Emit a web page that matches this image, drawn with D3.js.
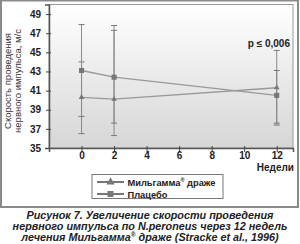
<!DOCTYPE html>
<html>
<head>
<meta charset="utf-8">
<script src="https://cdn.jsdelivr.net/npm/d3@7"></script>
<style>
body{margin:0;background:#fff;}
svg{display:block;font-family:"Liberation Sans",Arial,sans-serif;}
</style>
</head>
<body>
<div id="chart"></div>
<script>
// weeks of treatment and values
const weeks = [0, 2, 12]
const milgamma = [40.3, 40.1, 41.3]
const milgammaHi = [44.0, 47.3, 45.2]
const milgammaLo = [36.5, 36.3, 37.4]
const placebo = [43.1, 42.4, 40.5]
const placeboHi = [47.9, 47.8, 43.1]
const placeboLo = [38.3, 37.6, 37.6]
const xTicks = [0, 2, 4, 6, 8, 10, 12]
const yTicks = [35, 37, 39, 41, 43, 45, 47, 49]
const seriesNames = ['Мильгамма', 'Плацебо']

const width = 300
const height = 244
const svg = d3.select('#chart').append('svg')
	.attr('width',width)
	.attr('height',height)

//gradient for the plot area
const grad = svg.append('defs').append('linearGradient')
	.attr('id','bg').attr('x1',0).attr('y1',0).attr('x2',0).attr('y2',1)
grad.append('stop').attr('offset','0%').attr('stop-color','#ffffff')
grad.append('stop').attr('offset','100%').attr('stop-color','#d6d6d6')

//outer frame
svg.append('rect')
	.attr('x',1).attr('y',0.5).attr('width',297).attr('height',206.5)
	.attr('fill','#fff').attr('stroke','#8a8a8a').attr('stroke-width',2)

const x = d3.scaleLinear().domain([-2,13]).range([49,293])
const y = d3.scaleLinear().domain([35,50]).range([148,4.5])

svg.append('rect')
	.attr('x',x(-2)).attr('y',y(50)).attr('width',x(13)-x(-2)).attr('height',y(35)-y(50))
	.attr('fill','url(#bg)').attr('stroke','#9a9a9a').attr('stroke-width',1)

//axes
const yAxis = svg.append('g')
	.attr('transform',`translate(${x(-2)},0)`)
	.call(d3.axisLeft(y).tickValues(yTicks).tickSize(4).tickPadding(4))
const xAxis = svg.append('g')
	.attr('transform',`translate(0,${y(35)})`)
	.call(d3.axisBottom(x).tickValues(xTicks).tickSize(4).tickPadding(0))
;[yAxis,xAxis].forEach(function(a){
	a.select('.domain').attr('stroke','#555').attr('stroke-width',1.5)
	a.selectAll('.tick line').attr('stroke','#444')
	a.selectAll('.tick text')
		.attr('fill','#222')
		.style('font-size','10px')
		.style('font-weight','bold')
})
yAxis.selectAll('.tick line').attr('x2',-3).attr('x1',2)
xAxis.selectAll('.tick line').attr('y1',-2).attr('y2',4)

svg.append('text')
	.attr('x',294).attr('y',170.5)
	.attr('text-anchor','end')
	.style('font-size','10px').style('font-weight','bold').attr('fill','#222')
	.text('Недели')

//y axis title, two lines
const yTitle = svg.append('text')
	.attr('transform','translate(0,81) rotate(-90)')
	.attr('text-anchor','middle')
	.style('font-size','9.5px').attr('fill','#333')
yTitle.append('tspan').attr('x',0).attr('y',10.5).text('Скорость проведения')
yTitle.append('tspan').attr('x',0).attr('y',20.5).text('нервного импульса, м/с')

const col = '#8a8a8a'
const series = [
	{name:seriesNames[0],reg:true,tail:' драже',vals:milgamma,hi:milgammaHi,lo:milgammaLo,sym:d3.symbolTriangle,size:14},
	{name:seriesNames[1],reg:false,tail:'',vals:placebo,hi:placeboHi,lo:placeboLo,sym:d3.symbolSquare,size:26}
]

//error bars
series.forEach(function(s){
	const g = svg.append('g')
	weeks.forEach(function(w,i){
		g.append('line')
			.attr('x1',x(w)).attr('x2',x(w))
			.attr('y1',y(s.hi[i])).attr('y2',y(s.lo[i]))
			.attr('stroke',col).attr('stroke-width',1)
		;[s.hi[i],s.lo[i]].forEach(function(v){
			g.append('line')
				.attr('x1',x(w)-3).attr('x2',x(w)+3)
				.attr('y1',y(v)).attr('y2',y(v))
				.attr('stroke','#777').attr('stroke-width',1)
		})
	})
})

//lines & markers
const line = d3.line()
	.x(function(d,i){ return x(weeks[i]) })
	.y(function(d){ return y(d) })
series.forEach(function(s){
	svg.append('path')
		.datum(s.vals)
		.attr('d',line)
		.attr('fill','none')
		.attr('stroke','#999').attr('stroke-width',1.3)
	svg.selectAll(null)
		.data(s.vals)
		.enter().append('path')
		.attr('d',d3.symbol().type(s.sym).size(s.size))
		.attr('transform',function(d,i){ return `translate(${x(weeks[i])},${y(d)})` })
		.attr('fill','#777')
})

svg.append('text')
	.attr('x',290).attr('y',46.5)
	.attr('text-anchor','end')
	.style('font-size','10px').style('font-weight','bold').attr('fill','#222')
	.text('p ≤ 0,006')

//legend
const legend = svg.append('g')
legend.append('rect')
	.attr('x',92).attr('y',174.5).attr('width',131).attr('height',24)
	.attr('fill','#fff').attr('stroke','#777').attr('stroke-width',1)
series.forEach(function(s,i){
	const ly = 182 + i*12
	legend.append('line')
		.attr('x1',97).attr('x2',124).attr('y1',ly).attr('y2',ly)
		.attr('stroke','#777').attr('stroke-width',2)
	legend.append('path')
		.attr('d',d3.symbol().type(s.sym).size(i===0 ? 30 : 36))
		.attr('transform',`translate(110.5,${ly})`)
		.attr('fill','#777')
	const t = legend.append('text')
		.attr('x',127.5).attr('y',ly+3.5)
		.style('font-size','9.3px').style('font-weight','bold').attr('fill','#222')
	t.append('tspan').text(s.name)
	if(s.reg){
		t.append('tspan').attr('dy',-3.5).style('font-size','5.5px').text('®')
		t.append('tspan').attr('dy',3.5).text(s.tail)
	}
})

//caption
const caption = [['Рисунок 7. Увеличение скорости проведения'],
	['нервного импульса по N.peroneus через 12 недель'],
	['лечения Мильгамма','® ',' драже (Stracke et al., 1996)']]
svg.selectAll('.cap')
	.data(caption)
	.enter().append('text')
	.attr('class','cap')
	.attr('x',150).attr('y',function(d,i){ return 218.5 + i*11 })
	.attr('text-anchor','middle')
	.style('font-size','10.8px').style('font-weight','bold').style('font-style','italic')
	.attr('fill','#222')
	.each(function(d){
		const t = d3.select(this)
		t.append('tspan').text(d[0])
		if(d.length > 1){
			t.append('tspan').attr('dy',-3.5).style('font-size','6.5px').text('®')
			t.append('tspan').attr('dy',3.5).text(d[2])
		}
	})
</script>
</body>
</html>
